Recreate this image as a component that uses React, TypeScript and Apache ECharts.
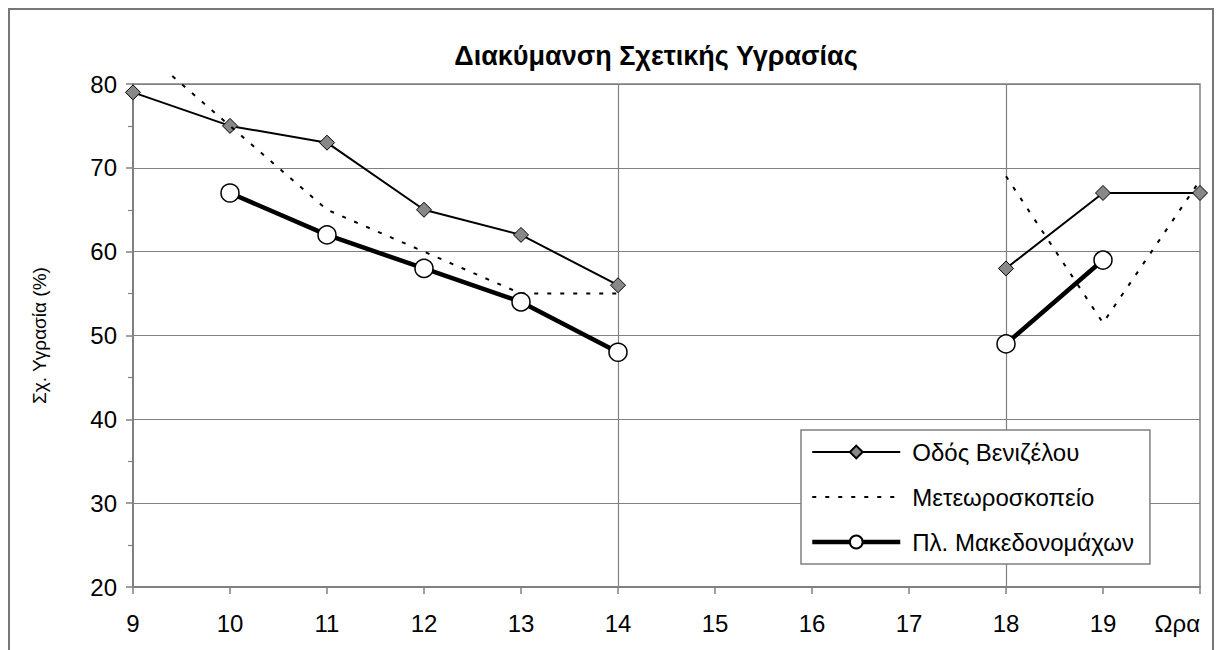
import React, { useEffect, useRef } from "react";
import * as echarts from "echarts";

const hours = ["9", "10", "11", "12", "13", "14", "15", "16", "17", "18", "19", "Ωρα"];
const venizelou = [79, 75, 73, 65, 62, 56, null, null, null, 58, 67, 67];
const meteo = [85, 75, 65, 60, 55, 55, null, null, null, 69, 51.5, 68.5];
const makedonomachon = [null, 67, 62, 58, 54, 48, null, null, null, 49, 59, null];
const seriesNames = ["Οδός Βενιζέλου", "Μετεωροσκοπείο", "Πλ. Μακεδονομάχων"];
const titleText = "Διακύμανση Σχετικής Υγρασίας";
const yName = "Σχ. Υγρασία (%)";
const yMin = 20;
const yMax = 80;
const yStep = 10;

const FONT = "'Liberation Sans', Arial, sans-serif";

export default function App() {
  const ref = useRef<HTMLDivElement>(null);
  useEffect(() => {
    if (!ref.current) return;
    const chart = echarts.init(ref.current, undefined, { renderer: "svg" });
    const gridLeft = 133;
    const gridTop = 84;
    const gridBottomPx = 587;
    const gridRight = 1221 - 1200;
    const plotH = gridBottomPx - gridTop;
    const extra = 12;
    const yMax2 = yMax + ((yMax - yMin) * extra) / plotH;
    const toData = (arr: (number | null)[]) => arr.map((v) => (v == null ? "-" : v));
    const gray = "#808080";
    const dash = [4, 9];

    chart.setOption({
      animation: false,
      backgroundColor: "#fff",
      title: {
        text: titleText,
        left: 651,
        top: 37,
        textAlign: "center",
        textStyle: { fontFamily: FONT, fontSize: 27, fontWeight: "bold", color: "#000" },
      },
      graphic: [
        {
          type: "rect",
          shape: { x: 9, y: 9, width: 1204, height: 700 },
          style: { fill: "none", stroke: "#777", lineWidth: 2 },
          silent: true,
        },
      ],
      legend: {
        orient: "vertical",
        left: 801,
        top: 430,
        padding: [10, 16, 10, 9],
        backgroundColor: "#fff",
        borderColor: gray,
        borderWidth: 1.5,
        itemWidth: 88,
        itemHeight: 16,
        itemGap: 21,
        textStyle: { fontFamily: FONT, fontSize: 24, color: "#000", padding: [0, 0, 0, 7] },
        data: [
          { name: seriesNames[0], lineStyle: { width: 2, color: "#000" } },
          { name: seriesNames[1], lineStyle: { width: 2, color: "#000", type: dash } },
          { name: seriesNames[2], lineStyle: { width: 4.5, color: "#000" } },
        ],
      },
      grid: [
        {
          left: gridLeft,
          right: gridRight,
          top: gridTop,
          bottom: 650 - gridBottomPx,
          show: true,
          borderColor: gray,
          borderWidth: 1.5,
          backgroundColor: "transparent",
        },
        {
          left: gridLeft,
          right: gridRight,
          top: gridTop - extra,
          bottom: 650 - gridBottomPx,
          show: false,
        },
      ],
      xAxis: [
        {
          type: "category",
          gridIndex: 0,
          data: hours,
          boundaryGap: false,
          axisLine: { lineStyle: { color: gray, width: 2 } },
          axisTick: { show: true, length: 7, interval: 0, lineStyle: { color: gray, width: 1.5 } },
          axisLabel: {
            interval: 0,
            margin: 24,
            color: "#000",
            fontFamily: FONT,
            fontSize: 24,
            alignMaxLabel: "right",
          },
          splitLine: {
            show: true,
            interval: (i: number) => i === 5 || i === 9,
            lineStyle: { color: gray, width: 1.2 },
          },
        },
        {
          type: "category",
          gridIndex: 1,
          data: hours,
          boundaryGap: false,
          show: false,
        },
      ],
      yAxis: [
        {
          type: "value",
          gridIndex: 0,
          min: yMin,
          max: yMax,
          interval: yStep,
          name: yName,
          nameLocation: "middle",
          nameRotate: 90,
          nameGap: 84,
          nameTextStyle: { fontFamily: FONT, fontSize: 19, color: "#000" },
          axisLine: { show: true, lineStyle: { color: gray, width: 2 } },
          axisTick: { show: true, length: 7, lineStyle: { color: gray, width: 1.5 } },
          minorTick: { show: true, splitNumber: 2, length: 5, lineStyle: { color: gray, width: 1.2 } },
          axisLabel: { margin: 16, color: "#000", fontFamily: FONT, fontSize: 24 },
          splitLine: { show: true, lineStyle: { color: gray, width: 1.2 } },
        },
        {
          type: "value",
          gridIndex: 1,
          min: yMin,
          max: yMax2,
          show: false,
          splitLine: { show: false },
        },
      ],
      series: [
        {
          name: seriesNames[0],
          type: "line",
          data: toData(venizelou),
          symbol: "diamond",
          symbolSize: 15,
          lineStyle: { color: "#000", width: 2 },
          itemStyle: { color: "#888", borderColor: "#000", borderWidth: 1 },
          connectNulls: false,
          z: 3,
        },
        {
          name: seriesNames[1],
          type: "line",
          xAxisIndex: 1,
          yAxisIndex: 1,
          data: toData(meteo),
          symbol: "none",
          showSymbol: false,
          lineStyle: { color: "#000", width: 2, type: dash },
          itemStyle: { color: "rgba(0,0,0,0)", borderWidth: 0 },
          connectNulls: false,
          clip: true,
          z: 4,
        },
        {
          name: seriesNames[2],
          type: "line",
          data: toData(makedonomachon),
          symbol: "circle",
          symbolSize: 18,
          lineStyle: { color: "#000", width: 4.5 },
          itemStyle: { color: "#fff", borderColor: "#000", borderWidth: 1.5 },
          connectNulls: false,
          z: 5,
        },
      ],
    });
    return () => chart.dispose();
  }, []);
  return (
    <div
      ref={ref}
      style={{ position: "fixed", left: 0, top: 0, width: 1221, height: 650, background: "#fff" }}
    />
  );
}
